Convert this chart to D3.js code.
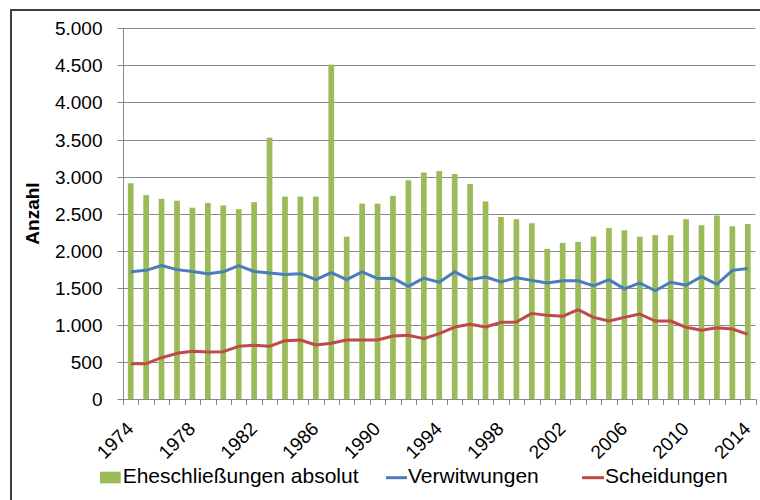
<!DOCTYPE html>
<html><head><meta charset="utf-8">
<script src="https://cdn.jsdelivr.net/npm/d3@7"></script>
<style>
html,body{margin:0;padding:0;background:#fff;}
text{font-family:"Liberation Sans",Arial,sans-serif;fill:#000;}
</style></head>
<body>
<svg id="chart" width="760" height="500"></svg>
<script>
const years = ["1974","1975","1976","1977","1978","1979","1980","1981","1982","1983","1984","1985","1986","1987","1988","1989","1990","1991","1992","1993","1994","1995","1996","1997","1998","1999","2000","2001","2002","2003","2004","2005","2006","2007","2008","2009","2010","2011","2012","2013","2014"];
const eheschliessungen = [2910,2750,2700,2675,2580,2645,2610,2560,2655,3525,2730,2730,2730,4510,2190,2635,2635,2740,2950,3055,3075,3035,2900,2665,2455,2425,2370,2025,2105,2120,2190,2305,2275,2190,2210,2210,2425,2345,2475,2330,2360];
const verwitwungen = [1715,1735,1800,1745,1720,1690,1715,1800,1720,1700,1680,1690,1610,1705,1610,1715,1625,1630,1520,1630,1575,1715,1610,1645,1580,1635,1600,1565,1595,1595,1525,1610,1485,1565,1460,1575,1535,1650,1545,1735,1760];
const scheidungen = [477,477,557,616,643,634,638,710,724,710,787,796,728,751,796,796,796,850,859,814,881,971,1007,971,1034,1038,1155,1128,1115,1205,1101,1052,1101,1146,1052,1052,967,926,962,944,872];
const yTicks = [0,500,1000,1500,2000,2500,3000,3500,4000,4500,5000];
const xLabels = ["1974","1978","1982","1986","1990","1994","1998","2002","2006","2010","2014"];
const seriesNames = ["Eheschließungen absolut","Verwitwungen","Scheidungen"];
const colors = {ehe:"#9bbb59", verw:"#4a7ebb", scheid:"#be4b48"};

(function(){
const svg = d3.select("#chart");
const pLeft = 123, pRight = 755.5, pTop = 28.3, pBottom = 399;

// frame
svg.append("rect").attr("x",11).attr("y",10).attr("width",800).attr("height",600)
  .attr("fill","#fff").attr("stroke","#404040").attr("stroke-width",2);

const x = d3.scaleBand().domain(years).range([pLeft,pRight]).paddingInner(0.63).paddingOuter(0.315);
const y = d3.scaleLinear().domain([0,5000]).range([pBottom,pTop]);
const fmt = v => d3.format(",")(v).replace(/,/g,".");

// gridlines
svg.append("g").selectAll("line").data(yTicks.filter(d=>d>0)).join("line")
  .attr("x1",pLeft).attr("x2",pRight)
  .attr("y1",d=>Math.round(y(d))+0.5).attr("y2",d=>Math.round(y(d))+0.5)
  .attr("stroke","#8a8a8a").attr("stroke-width",1);

// y axis
const yAxis = d3.axisLeft(y).tickValues(yTicks).tickSize(6).tickPadding(15).tickFormat(fmt);
const gy = svg.append("g").attr("transform",`translate(${pLeft+0.5},0)`).call(yAxis);
gy.select(".domain").attr("stroke","#8a8a8a").attr("d",`M0,${pTop}V${pBottom}`);
gy.selectAll(".tick line").attr("stroke","#8a8a8a");
gy.selectAll(".tick text").attr("font-size","19px").attr("font-family","Liberation Sans, Arial, sans-serif").attr("fill","#000");
gy.selectAll(".tick").attr("transform",d=>`translate(0,${Math.round(y(d))+0.5})`);

// bars
svg.append("g").selectAll("rect").data(eheschliessungen).join("rect")
  .attr("x",(d,i)=>x(years[i])).attr("width",x.bandwidth())
  .attr("y",d=>y(d)).attr("height",d=>pBottom-y(d))
  .attr("fill",colors.ehe);

// x axis line & boundary ticks
const step = x.step();
const boundaries = years.map((d,i)=>x(d) - step*x.paddingInner()/2).concat([pRight]);
svg.append("line").attr("x1",pLeft).attr("x2",pRight).attr("y1",pBottom+0.5).attr("y2",pBottom+0.5).attr("stroke","#8a8a8a");
svg.append("g").selectAll("line").data(boundaries).join("line")
  .attr("x1",d=>Math.round(d)+0.5).attr("x2",d=>Math.round(d)+0.5)
  .attr("y1",pBottom).attr("y2",pBottom+6).attr("stroke","#8a8a8a");

// x labels
svg.append("g").selectAll("text").data(xLabels).join("text")
  .attr("transform",d=>`translate(${x(d)+x.bandwidth()/2+4},${pBottom+31}) rotate(-45)`)
  .attr("text-anchor","end").attr("font-size","19px").text(d=>d);

// lines
const cx = (d,i)=>x(years[i])+x.bandwidth()/2;
const lineGen = d3.line().x(cx).y(d=>y(d));
svg.append("path").datum(verwitwungen).attr("d",lineGen).attr("fill","none")
  .attr("stroke",colors.verw).attr("stroke-width",3).attr("stroke-linejoin","round");
svg.append("path").datum(scheidungen).attr("d",lineGen).attr("fill","none")
  .attr("stroke",colors.scheid).attr("stroke-width",3).attr("stroke-linejoin","round");

// y title
svg.append("text").attr("transform","translate(39,213.5) rotate(-90)").attr("text-anchor","middle")
  .attr("font-size","19px").attr("font-weight","bold").text("Anzahl");

// legend
const lg = svg.append("g");
lg.append("rect").attr("x",100).attr("y",471.7).attr("width",20.7).attr("height",11.7).attr("fill",colors.ehe);
lg.append("text").attr("x",122.7).attr("y",483.3).attr("font-size","21px").text(seriesNames[0]);
lg.append("line").attr("x1",386).attr("x2",407).attr("y1",477.7).attr("y2",477.7).attr("stroke",colors.verw).attr("stroke-width",3);
lg.append("text").attr("x",408).attr("y",483.3).attr("font-size","21px").text(seriesNames[1]);
lg.append("line").attr("x1",582).attr("x2",604).attr("y1",477.7).attr("y2",477.7).attr("stroke",colors.scheid).attr("stroke-width",3);
lg.append("text").attr("x",605).attr("y",483.3).attr("font-size","21px").text(seriesNames[2]);
})();
</script>
</body></html>
